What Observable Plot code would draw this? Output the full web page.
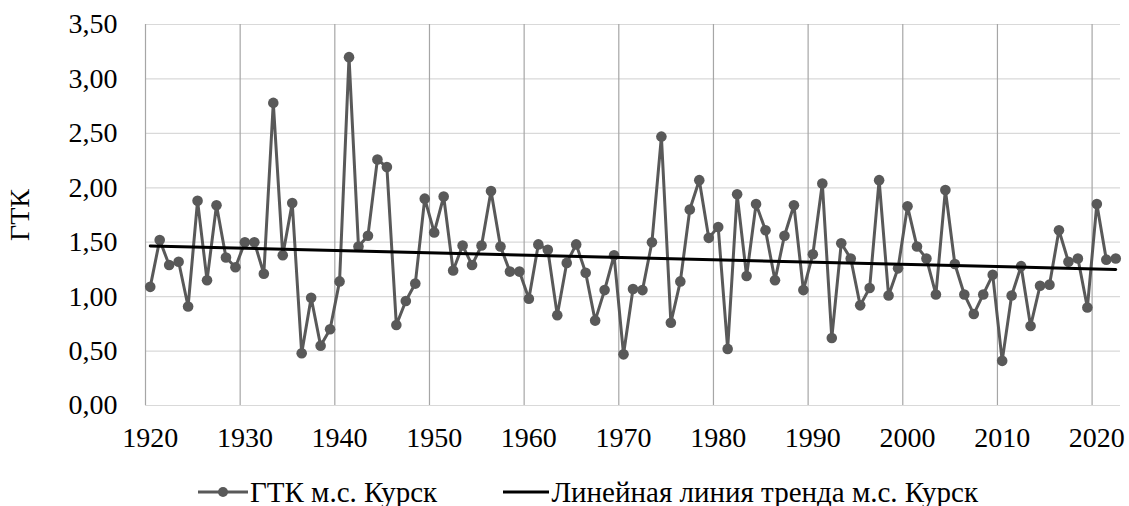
<!DOCTYPE html>
<html>
<head>
<meta charset="utf-8">
<script src="https://cdn.jsdelivr.net/npm/d3@7"></script>
<script src="https://cdn.jsdelivr.net/npm/@observablehq/plot@0.6"></script>
<style>
  html, body { margin: 0; padding: 0; background: #fff; }
  #wrap { position: relative; width: 1129px; height: 506px; font-family: 'Liberation Serif', 'DejaVu Serif', 'Noto Serif', 'Times New Roman', Times, serif; }
  #legend { position: absolute; left: 0; top: 472px; width: 1129px; height: 40px; font-size: 29px; color: #000; }
  .item { position: absolute; top: 0; height: 40px; display: flex; align-items: center; white-space: nowrap; }
  .item svg { display: block; margin-right: 2px; }
</style>
</head>
<body>
<div id="wrap">
  <div id="chart"></div>
  <div id="legend">
    <div class="item" style="left:198px">
      <svg width="50" height="14"><line x1="0" x2="50" y1="7" y2="7" stroke="#595959" stroke-width="3"/><circle cx="25" cy="7" r="5" fill="#595959"/></svg>
      <span>ГТК м.с. Курск</span>
    </div>
    <div class="item" style="right:151px">
      <svg width="46" height="14"><line x1="0" x2="46" y1="7" y2="7" stroke="#000" stroke-width="3"/></svg>
      <span>Линейная линия тренда м.с. Курск</span>
    </div>
  </div>
</div>
<script>
const years = d3.range(1920, 2023);
const gtk = [
  1.09, 1.52, 1.29, 1.32, 0.91, 1.88, 1.15, 1.84, 1.36, 1.27,
  1.50, 1.50, 1.21, 2.78, 1.38, 1.86, 0.48, 0.99, 0.55, 0.70,
  1.14, 3.20, 1.46, 1.56, 2.26, 2.19, 0.74, 0.96, 1.12, 1.90,
  1.59, 1.92, 1.24, 1.47, 1.29, 1.47, 1.97, 1.46, 1.23, 1.23,
  0.98, 1.48, 1.43, 0.83, 1.31, 1.48, 1.22, 0.78, 1.06, 1.38,
  0.47, 1.07, 1.06, 1.50, 2.47, 0.76, 1.14, 1.80, 2.07, 1.54,
  1.64, 0.52, 1.94, 1.19, 1.85, 1.61, 1.15, 1.56, 1.84, 1.06,
  1.39, 2.04, 0.62, 1.49, 1.35, 0.92, 1.08, 2.07, 1.01, 1.26,
  1.83, 1.46, 1.35, 1.02, 1.98, 1.30, 1.02, 0.84, 1.02, 1.20,
  0.41, 1.01, 1.28, 0.73, 1.10, 1.11, 1.61, 1.32, 1.35, 0.90,
  1.85, 1.34, 1.35
];
const xTicks = [1920, 1930, 1940, 1950, 1960, 1970, 1980, 1990, 2000, 2010, 2020];
const yTicks = [0, 0.5, 1, 1.5, 2, 2.5, 3, 3.5];
const yTitle = "ГТК";

const data = years.map((yr, i) => ({year: yr, value: gtk[i]}));
const fmt = v => d3.format(".2f")(v).replace(".", ",");
const FONT = "'Liberation Serif', 'DejaVu Serif', 'Noto Serif', 'Times New Roman', Times, serif";

const chart = Plot.plot({
  width: 1129,
  height: 466,
  marginTop: 24,
  marginBottom: 61,
  marginLeft: 145,
  marginRight: 9,
  style: {fontFamily: FONT, fontSize: "28px", color: "#000", background: "#fff"},
  x: {domain: [1919.5, 2022.5]},
  y: {domain: [0, 3.5]},
  marks: [
    Plot.ruleY(yTicks, {stroke: "#d9d9d9", strokeWidth: 1.2}),
    Plot.ruleX(xTicks.map(t => t - 0.5), {stroke: "#a6a6a6", strokeWidth: 1.2}),
    Plot.axisX(xTicks, {tickSize: 0, tickPadding: 22, tickFormat: d => String(d), label: null, fill: "#000", fontSize: 28, fontFamily: FONT}),
    Plot.axisY(yTicks, {tickSize: 0, tickPadding: 28, tickFormat: fmt, label: yTitle, labelAnchor: "center", labelArrow: "none", labelOffset: 136, fill: "#000", fontSize: 28, fontFamily: FONT}),
    Plot.line(data, {x: "year", y: "value", stroke: "#595959", strokeWidth: 3}),
    Plot.dot(data, {x: "year", y: "value", r: 5.3, fill: "#595959", stroke: "none"}),
    Plot.linearRegressionY(data, {x: "year", y: "value", stroke: "#000", strokeWidth: 3, ci: 0})
  ]
});
document.getElementById("chart").appendChild(chart);
</script>
</body>
</html>
